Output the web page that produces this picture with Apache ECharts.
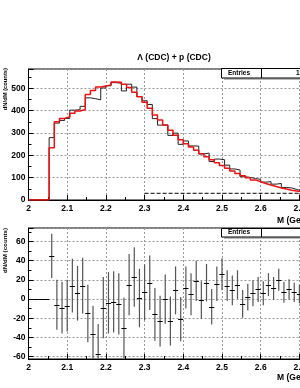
<!DOCTYPE html>
<html><head><meta charset="utf-8">
<script src="https://cdn.jsdelivr.net/npm/echarts@6/dist/echarts.min.js"></script>
<style>html,body{margin:0;padding:0;background:#fff}#c{width:300px;height:388px}</style>
</head><body><div id="c"></div>
<script>
// ---- data ----
const xMin = 2.0;
const xMax = 2.8;
const binWidth = 0.8 / 60;
const dataCounts = [0,0,0,0,279,344,356,365,402,404,419,457,453,448,501,511,525,522,488,518,505,463,444,427,364,335,335,289,299,249,264,242,241,206,210,172,183,180,156,139,134,104,101,96,92,80,82,71,74,56,54,47,41,36,31,30,26,25,22,21];
const fitCounts = [0,0,0,0,234,350,365,372,388,398,405,472,490,505,510,515,528,527,518,503,482,462,437,410,380,358,335,312,290,270,252,237,222,207,193,180,167,154,142,130,119,109,99,90,82,74,67,60,54,49,44,40,36,33,30,27,25,23,21,19];
const residuals = [0,0,0,0,45,-6,-9,-7,14,6,14,-15,-37,-57,-9,-4,-3,-5,-30,15,23,1,7,17,-16,-23,0,-23,9,-21,12,5,19,-1,17,-8,16,26,14,9,15,-5,2,6,10,6,15,11,20,7,10,7,5,3,1,3,1,2,1,2];
const residErrors = [0,0,0,0,23,26,27,27,28,28.5,29,30,30,31,32,32,32,32,31.5,32,31,30.5,29,28.5,27.5,26.5,25.7,25.5,25,23,22,22,21,19.5,19.5,18.5,18,16.5,16,15.5,15,14.5,14,13.5,13,12.5,12,12,11.5,11,10.5,10,9.5,9,8.5,8,8,7.5,7,7];
const bgLevel = 30;
const bgStart = 2.3;
const titleText = 'Λ (CDC) + p (CDC)';
const xTitle = 'M (GeV/c²)';
const yTitle = 'dN/dM (counts)';

function stepPoints(arr) {
  const pts = [];
  arr.forEach((v, i) => {
    const lo = xMin + i * binWidth;
    pts.push([lo, v], [lo + binWidth, v]);
  });
  return pts;
}

const FONT = 'Liberation Sans';
const grid = { left: 28.5, width: 309.6, height: 131, outerBoundsMode: 'none', containLabel: false };
function xAxisCfg(gi) {
  return {
    gridIndex: gi, type: 'value', min: xMin, max: xMax, interval: 0.1,
    axisLine: { show: true, onZero: false, lineStyle: { color: '#000', width: 1 } },
    axisTick: { show: true, inside: true, length: 5, lineStyle: { color: '#000' } },
    minorTick: { show: true, splitNumber: 2, length: 3, lineStyle: { color: '#000' } },
    splitLine: { show: true, lineStyle: { color: '#999', type: [2, 2], width: 1 } },
    axisLabel: { fontSize: 8.5, fontWeight: 'bold', fontFamily: FONT, color: '#000', margin: 4,
      formatter: v => String(+v.toFixed(1)) }
  };
}
function yAxisCfg(gi, extra) {
  return Object.assign({
    gridIndex: gi, type: 'value',
    axisLine: { show: true, onZero: false, lineStyle: { color: '#000', width: 1 } },
    axisTick: { show: true, inside: true, length: 5, lineStyle: { color: '#000' } },
    minorTick: { show: true, splitNumber: 2, length: 3, lineStyle: { color: '#000' } },
    splitLine: { show: true, lineStyle: { color: '#999', type: [2, 2], width: 1 } },
    axisLabel: { fontSize: 8.5, fontWeight: 'bold', fontFamily: FONT, color: '#000', margin: 3,
      showMaxLabel: false, showMinLabel: gi === 0 }
  }, extra);
}

const chart = echarts.init(document.getElementById('c'), null, { renderer: 'canvas' });
const txt = (x, y, s, size, align, extra) => Object.assign({
  type: 'text', x, y, z: 100,
  style: { text: s, fontSize: size, fontWeight: 'bold', fontFamily: FONT, fill: '#000', align: align, verticalAlign: 'middle' }
}, extra || {});

chart.setOption({
  animation: false,
  backgroundColor: '#fff',
  grid: [
    Object.assign({ top: 69, show: true, borderColor: '#000', borderWidth: 1 }, grid),
    Object.assign({ top: 228, show: true, borderColor: '#000', borderWidth: 1 }, grid)
  ],
  xAxis: [xAxisCfg(0), xAxisCfg(1)],
  yAxis: [
    yAxisCfg(0, { min: 0, max: 586, interval: 100 }),
    yAxisCfg(1, { min: -62.6, max: 74.1, splitNumber: 7 })
  ],
  series: [
    { type: 'line', xAxisIndex: 0, yAxisIndex: 0, data: stepPoints(dataCounts), symbol: 'none',
      lineStyle: { color: '#222', width: 1 }, z: 3 },
    { type: 'line', xAxisIndex: 0, yAxisIndex: 0, data: stepPoints(fitCounts), symbol: 'none',
      lineStyle: { color: '#f01010', width: 1.5 }, z: 4 },
    { type: 'line', xAxisIndex: 0, yAxisIndex: 0, data: [[bgStart, bgLevel], [xMax, bgLevel]], symbol: 'none',
      lineStyle: { color: '#000', width: 1, type: [4, 2] }, z: 5 },
    { type: 'custom', xAxisIndex: 1, yAxisIndex: 1, clip: true, z: 5,
      data: residuals.map((r, i) => [xMin + (i + 0.5) * binWidth, r, residErrors[i]]),
      encode: { x: 0, y: 1 },
      renderItem(params, api) {
        const c = api.value(0), r = api.value(1), e = api.value(2);
        const p1 = api.coord([c - binWidth / 2, r]), p2 = api.coord([c + binWidth / 2, r]);
        const children = [];
        if (e > 0) {
          const t = api.coord([c, r + e]), b = api.coord([c, r - e]);
          children.push({ type: 'line', shape: { x1: t[0], y1: t[1], x2: b[0], y2: b[1] }, style: { stroke: '#555', lineWidth: 1.2 } });
        }
        children.push({ type: 'line', shape: { x1: p1[0], y1: Math.round(p1[1]) + 0.5, x2: p2[0], y2: Math.round(p1[1]) + 0.5 },
          style: { stroke: '#000', lineWidth: 1 } });
        return { type: 'group', children };
      } }
  ],
  graphic: [
    txt(174, 58, titleText, 8.5, 'center'),
    txt(277, 221, xTitle, 8.5, 'left'),
    txt(277, 378, xTitle, 8.5, 'left'),
    txt(5, 68, yTitle, 5.8, 'right', { rotation: Math.PI / 2 }),
    txt(5, 228, yTitle, 6.2, 'right', { rotation: Math.PI / 2 }),
    // stats boxes
    { type: 'rect', z: 90, shape: { x: 224, y: 78, width: 90, height: 2 }, style: { fill: '#bbb' } },
    { type: 'rect', z: 91, shape: { x: 221.5, y: 68.5, width: 90, height: 9.5 }, style: { fill: '#fff', stroke: '#000', lineWidth: 1 } },
    { type: 'line', z: 92, shape: { x1: 261.5, y1: 68.5, x2: 261.5, y2: 78 }, style: { stroke: '#000', lineWidth: 1 } },
    txt(239, 73.5, 'Entries', 6.5, 'center'),
    txt(296, 73.5, '1', 6.5, 'left'),
    { type: 'rect', z: 90, shape: { x: 224, y: 237, width: 90, height: 2 }, style: { fill: '#bbb' } },
    { type: 'rect', z: 91, shape: { x: 221.5, y: 228.5, width: 90, height: 8.5 }, style: { fill: '#fff', stroke: '#000', lineWidth: 1 } },
    { type: 'line', z: 92, shape: { x1: 261.5, y1: 228.5, x2: 261.5, y2: 237 }, style: { stroke: '#000', lineWidth: 1 } },
    txt(239, 232.7, 'Entries', 6.5, 'center')
  ]
});
</script></body></html>
